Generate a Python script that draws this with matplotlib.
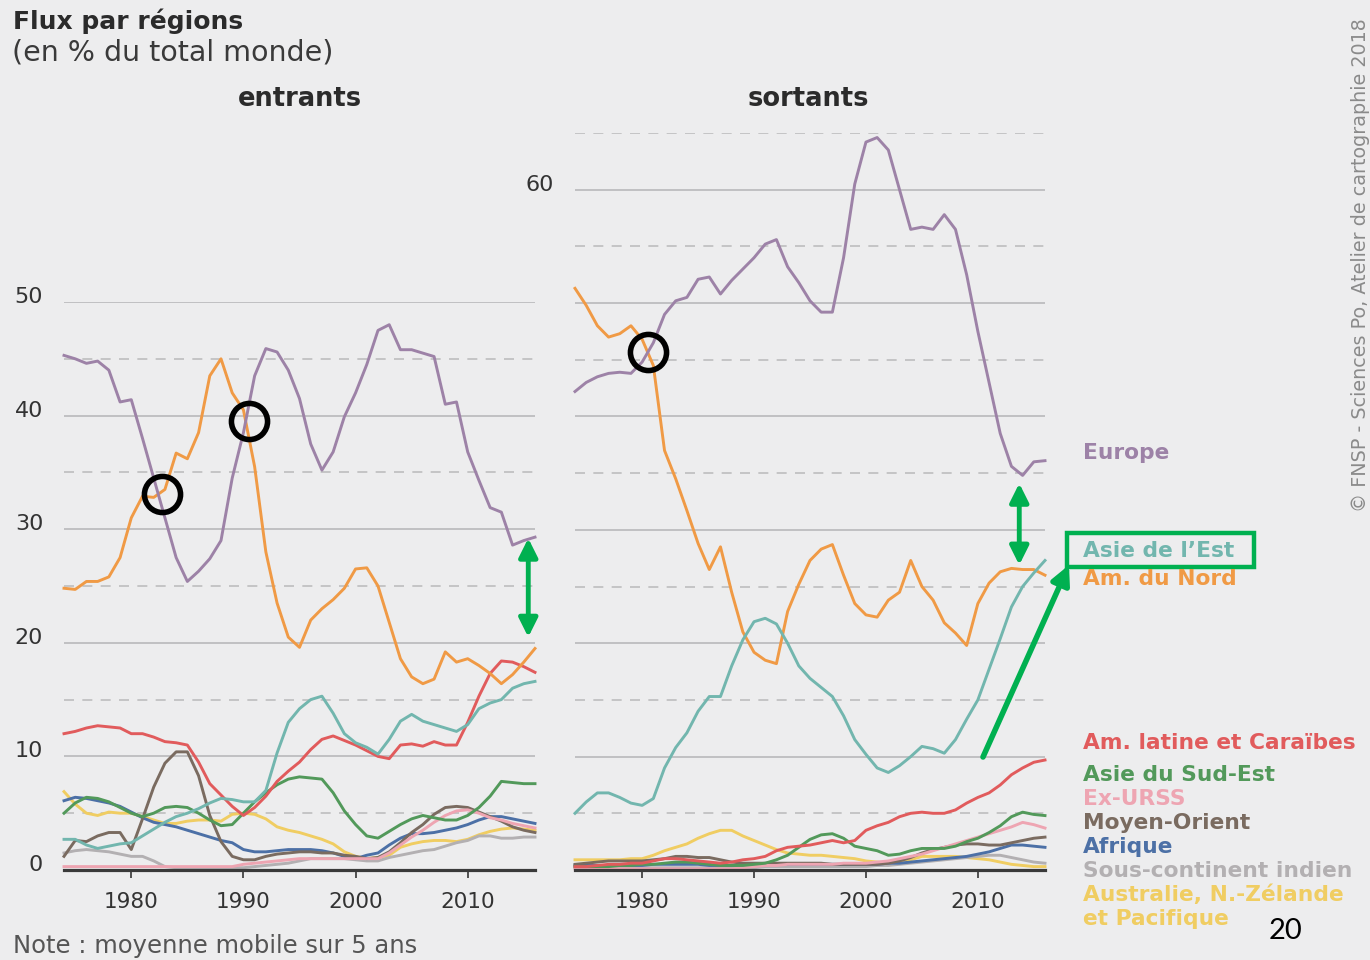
import matplotlib
matplotlib.use("Agg")
import matplotlib.pyplot as plt
from matplotlib.patches import Rectangle, FancyArrowPatch
from matplotlib.transforms import ScaledTranslation

plt.rcParams["font.family"] = ["DejaVu Sans"]

years = list(range(1974, 2017))

# flux entrants (en % du total monde)
in_europe = [45.3, 45.0, 44.6, 44.8, 44.0, 41.2, 41.4, 38.0, 34.5, 31.0, 27.5, 25.4, 26.3, 27.4, 29.0,
             34.5, 38.5, 43.5, 45.9, 45.6, 44.0, 41.5, 37.5, 35.2, 36.8, 39.9, 42.0, 44.5, 47.5, 48.0,
             45.8, 45.8, 45.5, 45.2, 41.0, 41.2, 36.8, 34.3, 31.9, 31.5, 28.6, 29.0, 29.3]
in_am_nord = [24.8, 24.7, 25.4, 25.4, 25.8, 27.5, 31.0, 32.9, 32.8, 33.5, 36.7, 36.2, 38.5, 43.5, 45.0,
              42.0, 40.5, 35.5, 28.0, 23.5, 20.5, 19.6, 22.0, 23.0, 23.8, 24.8, 26.5, 26.6, 25.0, 21.8,
              18.6, 17.0, 16.4, 16.8, 19.2, 18.3, 18.6, 18.0, 17.3, 16.4, 17.2, 18.3, 19.5]
in_asie_est = [2.7, 2.7, 2.2, 1.9, 2.1, 2.3, 2.4, 3.0, 3.6, 4.2, 4.7, 5.0, 5.4, 5.9, 6.3,
               6.2, 6.0, 6.0, 7.0, 10.3, 13.0, 14.2, 15.0, 15.3, 13.8, 12.0, 11.2, 10.8, 10.2, 11.5,
               13.1, 13.7, 13.1, 12.8, 12.5, 12.2, 12.8, 14.2, 14.7, 15.0, 16.0, 16.4, 16.6]
in_am_latine = [12.0, 12.2, 12.5, 12.7, 12.6, 12.5, 12.0, 12.0, 11.7, 11.3, 11.2, 11.0, 9.5, 7.6, 6.6,
                5.6, 4.8, 5.5, 6.5, 7.8, 8.7, 9.5, 10.6, 11.5, 11.8, 11.4, 11.0, 10.5, 10.0, 9.8,
                11.0, 11.1, 10.9, 11.3, 11.0, 11.0, 13.0, 15.3, 17.3, 18.4, 18.3, 17.9, 17.4]
in_asie_se = [5.0, 5.9, 6.4, 6.3, 6.0, 5.5, 5.0, 4.7, 5.0, 5.5, 5.6, 5.5, 5.0, 4.4, 3.9,
              4.0, 5.0, 6.0, 6.8, 7.5, 8.0, 8.2, 8.1, 8.0, 6.8, 5.2, 4.0, 3.0, 2.8, 3.4,
              4.0, 4.5, 4.8, 4.6, 4.4, 4.4, 4.8, 5.5, 6.5, 7.8, 7.7, 7.6, 7.6]
in_ex_urss = [0.3, 0.3, 0.3, 0.3, 0.3, 0.3, 0.3, 0.3, 0.3, 0.3, 0.3, 0.3, 0.3, 0.3, 0.3,
              0.3, 0.5, 0.6, 0.7, 0.8, 0.9, 1.0, 1.0, 1.0, 1.0, 1.0, 1.0, 1.0, 1.0, 1.5,
              2.2, 2.9, 3.5, 4.2, 4.8, 5.2, 5.3, 5.0, 4.6, 4.4, 4.1, 3.9, 3.7]
in_moyen_orient = [1.2, 2.6, 2.5, 3.0, 3.3, 3.3, 1.8, 4.5, 7.3, 9.4, 10.4, 10.4, 8.3, 4.8, 2.5,
                   1.2, 0.9, 0.9, 1.2, 1.4, 1.5, 1.6, 1.6, 1.5, 1.5, 1.3, 1.2, 1.0, 1.1, 1.6,
                   2.4, 3.3, 4.0, 4.9, 5.5, 5.6, 5.5, 5.1, 4.7, 4.3, 3.8, 3.5, 3.3]
in_afrique = [6.1, 6.4, 6.3, 6.1, 5.9, 5.6, 5.1, 4.6, 4.2, 4.0, 3.8, 3.5, 3.2, 2.9, 2.6,
              2.4, 1.8, 1.6, 1.6, 1.7, 1.8, 1.8, 1.8, 1.7, 1.5, 1.2, 1.0, 1.3, 1.5, 2.2,
              2.8, 3.2, 3.2, 3.3, 3.5, 3.7, 4.0, 4.4, 4.7, 4.7, 4.5, 4.3, 4.1]
in_sous_cont = [1.5, 1.7, 1.8, 1.7, 1.6, 1.4, 1.2, 1.2, 0.8, 0.3, 0.2, 0.2, 0.2, 0.2, 0.2,
                0.2, 0.2, 0.3, 0.4, 0.5, 0.6, 0.8, 1.0, 1.0, 1.0, 1.0, 0.9, 0.8, 0.8, 1.1,
                1.3, 1.5, 1.7, 1.8, 2.1, 2.4, 2.6, 3.0, 3.0, 2.8, 2.8, 2.9, 2.9]
in_australie = [6.9, 5.8, 5.0, 4.8, 5.1, 5.0, 5.0, 4.7, 4.4, 4.1, 4.1, 4.3, 4.4, 4.4, 4.3,
                4.9, 5.0, 4.9, 4.5, 3.8, 3.5, 3.3, 3.0, 2.7, 2.3, 1.6, 1.2, 1.0, 1.1, 1.3,
                2.0, 2.3, 2.5, 2.6, 2.6, 2.5, 2.7, 3.1, 3.4, 3.6, 3.7, 3.6, 3.5]

# flux sortants (en % du total monde)
out_europe = [42.2, 43.0, 43.5, 43.8, 43.9, 43.8, 44.8, 46.5, 49.0, 50.2, 50.5, 52.1, 52.3, 50.8, 52.0,
              53.0, 54.0, 55.2, 55.6, 53.2, 51.8, 50.2, 49.2, 49.2, 54.0, 60.5, 64.2, 64.6, 63.5, 60.0,
              56.5, 56.7, 56.5, 57.8, 56.5, 52.5, 47.5, 43.0, 38.5, 35.6, 34.8, 36.0, 36.1]
out_am_nord = [51.3, 49.8, 48.0, 47.0, 47.3, 48.0, 46.8, 44.5, 37.0, 34.5, 31.7, 28.8, 26.5, 28.5, 24.5,
               21.0, 19.2, 18.5, 18.2, 22.8, 25.2, 27.3, 28.3, 28.7, 26.0, 23.5, 22.5, 22.3, 23.8, 24.5,
               27.3, 25.0, 23.8, 21.8, 20.9, 19.8, 23.5, 25.3, 26.3, 26.6, 26.5, 26.5, 26.0]
out_asie_est = [5.0, 6.0, 6.8, 6.8, 6.4, 5.9, 5.7, 6.3, 9.0, 10.8, 12.1, 14.0, 15.3, 15.3, 18.0,
                20.3, 21.9, 22.2, 21.7, 20.0, 18.0, 16.9, 16.1, 15.3, 13.6, 11.5, 10.2, 9.0, 8.6, 9.2,
                10.0, 10.9, 10.7, 10.3, 11.5, 13.3, 15.0, 17.7, 20.4, 23.2, 25.0, 26.2, 27.3]
out_am_latine = [0.3, 0.3, 0.4, 0.5, 0.5, 0.6, 0.6, 0.8, 1.0, 1.0, 0.9, 0.8, 0.7, 0.6, 0.7,
                 0.9, 1.0, 1.2, 1.7, 2.0, 2.1, 2.2, 2.4, 2.6, 2.4, 2.6, 3.5, 3.9, 4.2, 4.7,
                 5.0, 5.1, 5.0, 5.0, 5.3, 5.9, 6.4, 6.8, 7.5, 8.4, 9.0, 9.5, 9.7]
out_asie_se = [0.3, 0.3, 0.3, 0.3, 0.4, 0.4, 0.5, 0.5, 0.6, 0.7, 0.7, 0.6, 0.5, 0.4, 0.4,
               0.4, 0.5, 0.6, 0.9, 1.3, 2.0, 2.7, 3.1, 3.2, 2.8, 2.1, 1.9, 1.7, 1.3, 1.4,
               1.7, 1.9, 1.9, 1.9, 2.1, 2.5, 2.8, 3.3, 3.9, 4.7, 5.1, 4.9, 4.8]
out_ex_urss = [0.1, 0.1, 0.1, 0.1, 0.1, 0.1, 0.1, 0.1, 0.1, 0.1, 0.1, 0.1, 0.1, 0.1, 0.1,
               0.2, 0.3, 0.4, 0.4, 0.5, 0.5, 0.5, 0.5, 0.5, 0.6, 0.6, 0.6, 0.7, 0.8, 1.0,
               1.2, 1.4, 1.7, 2.0, 2.3, 2.6, 2.9, 3.2, 3.5, 3.8, 4.2, 4.0, 3.7]
out_moyen_orient = [0.5, 0.6, 0.7, 0.8, 0.8, 0.8, 0.8, 0.9, 1.0, 1.2, 1.2, 1.1, 1.1, 0.9, 0.7,
                    0.6, 0.6, 0.6, 0.6, 0.6, 0.6, 0.6, 0.6, 0.5, 0.5, 0.5, 0.5, 0.5, 0.6, 0.8,
                    1.1, 1.5, 1.8, 2.0, 2.2, 2.3, 2.3, 2.2, 2.2, 2.4, 2.6, 2.8, 2.9]
out_afrique = [0.4, 0.4, 0.4, 0.4, 0.4, 0.4, 0.4, 0.5, 0.5, 0.5, 0.5, 0.5, 0.4, 0.4, 0.4,
               0.4, 0.4, 0.5, 0.5, 0.5, 0.5, 0.5, 0.5, 0.5, 0.5, 0.5, 0.5, 0.5, 0.6, 0.6,
               0.7, 0.8, 0.9, 1.0, 1.1, 1.2, 1.4, 1.6, 1.9, 2.2, 2.2, 2.1, 2.0]
out_sous_cont = [0.2, 0.2, 0.2, 0.2, 0.2, 0.2, 0.2, 0.2, 0.2, 0.2, 0.2, 0.2, 0.2, 0.2, 0.2,
                 0.2, 0.2, 0.3, 0.3, 0.3, 0.3, 0.3, 0.3, 0.3, 0.3, 0.3, 0.3, 0.4, 0.4, 0.5,
                 0.6, 0.7, 0.8, 0.9, 1.0, 1.1, 1.2, 1.3, 1.3, 1.1, 0.9, 0.7, 0.6]
out_australie = [0.9, 0.9, 0.9, 0.9, 0.9, 1.0, 1.0, 1.3, 1.7, 2.0, 2.3, 2.8, 3.2, 3.5, 3.5,
                 3.0, 2.6, 2.2, 1.8, 1.5, 1.4, 1.3, 1.3, 1.2, 1.1, 1.0, 0.8, 0.7, 0.6, 0.8,
                 0.9, 1.2, 1.2, 1.2, 1.2, 1.1, 1.0, 0.9, 0.7, 0.5, 0.4, 0.3, 0.3]

regions = ["Europe", "Asie de l\u2019Est", "Am. du Nord", "Am. latine et Cara\u00efbes", "Asie du Sud-Est",
           "Ex-URSS", "Moyen-Orient", "Afrique", "Sous-continent indien", "Australie, N.-Z\u00e9lande"]
colors = ["#9d82a7", "#72b6ae", "#f09a45", "#e15b5c", "#52995a",
          "#eea5b2", "#7a6b60", "#4c70a6", "#b3b0b2", "#f0cd62"]
series_in = [in_europe, in_asie_est, in_am_nord, in_am_latine, in_asie_se,
             in_ex_urss, in_moyen_orient, in_afrique, in_sous_cont, in_australie]
series_out = [out_europe, out_asie_est, out_am_nord, out_am_latine, out_asie_se,
              out_ex_urss, out_moyen_orient, out_afrique, out_sous_cont, out_australie]

# label positions (figure px, y) for the regional names on the right
label_y = [453, 551, 579, 743, 775, 799, 823, 847, 871, 895]

# annotation overlays
circle_in_years = [1982.7, 1990.5]
circle_in_values = [33.1, 39.5]
circle_out_years = [1980.5]
circle_out_values = [45.7]

bg = "#ededee"
green = "#00b050"
W, H = 1370, 960

fig = plt.figure(figsize=(W / 100, H / 100), dpi=100, facecolor=bg)


def fx(x):
    return x / W


def fy(y):
    return 1 - y / H


ax1 = fig.add_axes([fx(64), fy(870), fx(535) - fx(64), fy(302) - fy(870)])
ax2 = fig.add_axes([fx(575), fy(870), fx(1045) - fx(575), fy(133) - fy(870)])

for ax in (ax1, ax2):
    ax.set_facecolor(bg)
    ax.set_xlim(1974, 2016)
    ax.set_axisbelow(True)
    for s in ("top", "right", "left"):
        ax.spines[s].set_visible(False)
    ax.spines["bottom"].set_linewidth(2.3)
    ax.spines["bottom"].set_color("#3a3a3a")
    ax.spines["bottom"].set_zorder(5)
    ax.set_xticks([1980, 1990, 2000, 2010])
    ax.tick_params(axis="x", direction="out", length=6, width=1.3, color="#444444",
                   labelsize=15.5, labelcolor="#333333", pad=10)
    ax.tick_params(axis="y", length=0, labelsize=16, labelcolor="#333333", pad=15)
    ax.grid(which="major", axis="y", color="#b9b9bb", linewidth=1.2)
    ax.grid(which="minor", axis="y", color="#bdbdbf", linewidth=1.2, linestyle=(0, (6, 5)))
    ax.tick_params(which="minor", length=0)

ax1.set_ylim(0, 50)
ax1.set_yticks(range(0, 51, 10))
ax1.set_yticks(range(5, 50, 10), minor=True)
ax2.set_ylim(0, 65)
ax2.set_yticks(range(0, 61, 10))
ax2.set_yticklabels(["", "", "", "", "", "", "60"])
ax2.set_yticks(range(5, 66, 10), minor=True)

shift = ScaledTranslation(0, 7 / 100, fig.dpi_scale_trans)
for ax in (ax1, ax2):
    for lab in ax.get_yticklabels():
        lab.set_transform(lab.get_transform() + shift)

# draw small series first so the big ones stay on top
for i in reversed(range(len(regions))):
    ax1.plot(years, series_in[i], color=colors[i], lw=2.1, solid_joinstyle="round", clip_on=False, zorder=3)
    ax2.plot(years, series_out[i], color=colors[i], lw=2.1, solid_joinstyle="round", clip_on=False, zorder=3)

fig.text(fx(300), fy(99), "entrants", fontsize=18.5, fontweight="bold", color="#2b2b2b", ha="center", va="center")
fig.text(fx(808), fy(99), "sortants", fontsize=18.5, fontweight="bold", color="#2b2b2b", ha="center", va="center")

fig.text(fx(13), fy(21), "Flux par r\u00e9gions", fontsize=18, fontweight="bold", color="#2b2b2b", va="center")
fig.text(fx(12), fy(53), "(en % du total monde)", fontsize=20.5, color="#3a3a3a", va="center")
fig.text(fx(13), fy(946), "Note : moyenne mobile sur 5 ans", fontsize=17.5, color="#555555", va="center")

for name, c, y in zip(regions, colors, label_y):
    fig.text(fx(1083), fy(y), name, fontsize=15.7, fontweight="bold", color=c, va="center")
fig.text(fx(1083), fy(919), "et Pacifique", fontsize=15.7, fontweight="bold", color=colors[-1], va="center")

fig.text(fx(1361), fy(512), "\u00a9 FNSP - Sciences Po, Atelier de cartographie 2018", rotation=90,
         fontsize=13.8, color="#8a8a8a", ha="left", va="center", rotation_mode="anchor")
fig.text(fx(1286), fy(931), "20", fontsize=21, color="black", ha="center", va="center",
         family=["Lato", "DejaVu Sans"])

# black circles on crossings
ax1.plot(circle_in_years, circle_in_values, "o", ms=26, mfc="none", mec="black", mew=4, clip_on=False, zorder=6)
ax2.plot(circle_out_years, circle_out_values, "o", ms=26, mfc="none", mec="black", mew=4, clip_on=False, zorder=6)

# green double arrows showing the gaps
arrow_kw = dict(arrowstyle="<|-|>", color=green, lw=3.5, mutation_scale=28, shrinkA=0, shrinkB=0)
ax1.annotate("", xy=(2015.4, 20.5), xytext=(2015.4, 29.2), arrowprops=arrow_kw, annotation_clip=False)
ax2.annotate("", xy=(2013.7, 26.9), xytext=(2013.7, 34.1), arrowprops=arrow_kw, annotation_clip=False)

# green box + arrow on the legend
fig.add_artist(Rectangle((fx(1067), fy(567)), fx(1254) - fx(1067), fy(533) - fy(567),
                         transform=fig.transFigure, fill=False, edgecolor=green, linewidth=3.2))
fig.add_artist(FancyArrowPatch((fx(983), fy(757)), (fx(1069), fy(565)), transform=fig.transFigure,
                               arrowstyle="-|>", mutation_scale=28, color=green, lw=4,
                               shrinkA=0, shrinkB=0))

fig.savefig("out.png", dpi=100, facecolor=bg)
